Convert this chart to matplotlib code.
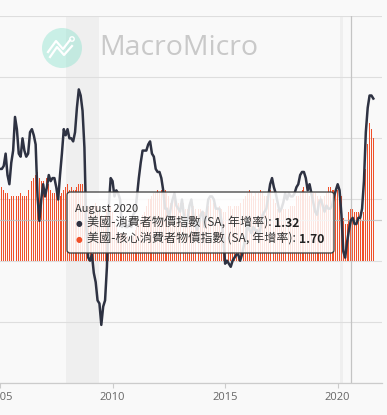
import matplotlib
matplotlib.use('Agg')
import matplotlib.pyplot as plt
import numpy as np
from matplotlib.patches import FancyBboxPatch, Circle
from matplotlib.transforms import IdentityTransform

# ---------------- data (monthly, Jan 2005 .. Aug 2021) ----------------
start_year = 2005
cpi_yoy = [
    3.0, 3.0, 3.1, 3.5, 2.8, 2.5, 3.2, 3.6, 4.7, 4.3, 3.5, 3.4,
    4.0, 3.6, 3.4, 3.5, 4.2, 4.3, 4.1, 3.8, 2.1, 1.3, 2.0, 2.5,
    2.1, 2.4, 2.8, 2.6, 2.7, 2.7, 2.4, 2.0, 2.8, 3.5, 4.3, 4.1,
    4.3, 4.0, 4.0, 3.9, 4.2, 5.0, 5.6, 5.4, 4.9, 3.7, 1.1, 0.1,
    0.0, 0.2, -0.4, -0.7, -1.3, -1.4, -2.1, -1.5, -1.3, -0.2, 1.8, 2.7,
    2.6, 2.1, 2.3, 2.2, 2.0, 1.1, 1.2, 1.1, 1.1, 1.2, 1.1, 1.5,
    1.6, 2.1, 2.7, 3.2, 3.6, 3.6, 3.6, 3.8, 3.9, 3.5, 3.4, 3.0,
    2.9, 2.9, 2.7, 2.3, 1.7, 1.7, 1.4, 1.7, 2.0, 2.2, 1.8, 1.7,
    1.6, 2.0, 1.5, 1.1, 1.4, 1.8, 2.0, 1.5, 1.2, 1.0, 1.2, 1.5,
    1.6, 1.1, 1.5, 2.0, 2.1, 2.1, 2.0, 1.7, 1.7, 1.7, 1.3, 0.8,
    -0.1, 0.0, -0.1, -0.2, 0.0, 0.1, 0.2, 0.2, 0.0, 0.2, 0.5, 0.7,
    1.4, 1.0, 0.9, 1.1, 1.0, 1.0, 0.8, 1.1, 1.5, 1.6, 1.7, 2.1,
    2.5, 2.7, 2.4, 2.2, 1.9, 1.6, 1.7, 1.9, 2.2, 2.0, 2.2, 2.1,
    2.1, 2.2, 2.4, 2.5, 2.8, 2.9, 2.9, 2.7, 2.3, 2.5, 2.2, 1.9,
    1.6, 1.5, 1.9, 2.0, 1.8, 1.6, 1.8, 1.7, 1.7, 1.8, 2.1, 2.3,
    2.5, 2.3, 1.5, 0.3, 0.1, 0.6, 1.0, 1.32, 1.4, 1.2, 1.2, 1.4,
    1.4, 1.7, 2.6, 4.2, 5.0, 5.4, 5.4, 5.3,
]
core_yoy = [
    2.3, 2.4, 2.3, 2.2, 2.2, 2.0, 2.1, 2.1, 2.0, 2.1, 2.1, 2.2,
    2.1, 2.1, 2.1, 2.3, 2.4, 2.6, 2.7, 2.8, 2.9, 2.7, 2.6, 2.6,
    2.7, 2.7, 2.5, 2.3, 2.2, 2.2, 2.2, 2.1, 2.1, 2.2, 2.3, 2.4,
    2.5, 2.3, 2.4, 2.3, 2.3, 2.4, 2.5, 2.5, 2.5, 2.2, 2.0, 1.8,
    1.7, 1.8, 1.8, 1.9, 1.8, 1.7, 1.5, 1.4, 1.5, 1.7, 1.7, 1.8,
    1.6, 1.3, 1.1, 0.9, 0.9, 0.9, 0.9, 0.9, 0.8, 0.6, 0.8, 0.8,
    1.0, 1.1, 1.2, 1.3, 1.5, 1.6, 1.8, 2.0, 2.0, 2.1, 2.2, 2.2,
    2.3, 2.2, 2.3, 2.3, 2.3, 2.2, 2.1, 1.9, 2.0, 2.0, 1.9, 1.9,
    1.9, 2.0, 1.9, 1.7, 1.7, 1.6, 1.7, 1.8, 1.7, 1.7, 1.7, 1.7,
    1.6, 1.6, 1.7, 1.8, 2.0, 1.9, 1.9, 1.7, 1.7, 1.8, 1.7, 1.6,
    1.6, 1.7, 1.8, 1.8, 1.7, 1.8, 1.8, 1.8, 1.9, 1.9, 2.0, 2.1,
    2.2, 2.3, 2.2, 2.1, 2.2, 2.2, 2.2, 2.3, 2.2, 2.1, 2.1, 2.2,
    2.3, 2.2, 2.0, 1.9, 1.7, 1.7, 1.7, 1.7, 1.7, 1.8, 1.7, 1.8,
    1.8, 1.8, 2.1, 2.1, 2.2, 2.3, 2.4, 2.2, 2.2, 2.1, 2.2, 2.2,
    2.2, 2.1, 2.0, 2.1, 2.0, 2.1, 2.2, 2.4, 2.4, 2.3, 2.3, 2.3,
    2.3, 2.4, 2.1, 1.4, 1.2, 1.2, 1.6, 1.70, 1.7, 1.6, 1.6, 1.6,
    1.4, 1.3, 1.6, 3.0, 3.8, 4.5, 4.3, 4.0,
]
recessions = [(2007 + 11/12, 2009 + 5/12), (2020 + 1/12, 2020 + 3/12)]
xticks = [2005, 2010, 2015, 2020]
tooltip_title = 'August 2020'
tooltip_index = 15 * 12 + 7
label_cpi = '美國-消費者物價指數 (SA, 年增率)'
label_core = '美國-核心消費者物價指數 (SA, 年增率)'

# ---------------- figure ----------------
W, H = 387, 415
BG = '#f9f9f9'
RED = '#f0502a'
NAVY = '#2e3242'
plt.rcParams['font.family'] = ['Noto Sans CJK TC', 'DejaVu Sans']
fig = plt.figure(figsize=(W / 100, H / 100), dpi=100, facecolor=BG)
ax = fig.add_axes([0, 32 / H, 382 / W, 367 / H])
ax.set_facecolor(BG)

t = start_year + np.arange(len(cpi_yoy)) / 12.0
x0 = 2005.17
ax.set_xlim(x0, x0 + 382 / 22.74)
ax.set_ylim(-4, 8)

for a, b in recessions:
    ax.axvspan(a, b, color='#efefef', lw=0, zorder=0.5)

ax.set_yticks(np.arange(-4, 9, 2))
ax.yaxis.grid(True, color='#dedede', lw=0.8, zorder=0)
ax.set_axisbelow(True)
ax.tick_params(axis='y', left=False, labelleft=False)

ax.bar(t, core_yoy, width=0.5 / 12, color=RED, lw=0, zorder=2, align='center')
ax.plot(t, cpi_yoy, color=NAVY, lw=1.8, zorder=3, solid_joinstyle='round')

# crosshair
ax.axvline(t[tooltip_index], color='#c4c4c4', lw=0.9, zorder=2.5)
ax.axhline(cpi_yoy[tooltip_index], color='#c0c0c0', lw=0.9, alpha=0.8, zorder=2.5)

for s in ['top', 'right', 'left']:
    ax.spines[s].set_visible(False)
ax.spines['bottom'].set_color('#cccccc')
ax.spines['bottom'].set_linewidth(0.9)
ax.set_xticks(xticks)
ax.set_xticklabels([str(v) for v in xticks], family='Open Sans', fontsize=8, color='#666666')
ax.tick_params(axis='x', length=3.5, color='#cccccc', pad=3)

# ---------------- watermark ----------------
px = IdentityTransform()
fig.add_artist(Circle((62, H - 48), 20, transform=px, color='#8fe3cf', alpha=0.45, lw=0, zorder=1))
zig1 = [(48, 52), (56, 41), (63, 49), (70, 40)]
zig2 = [(50, 57), (57, 47), (64, 55), (72, 46)]
for z in (zig1, zig2):
    xs = [p[0] for p in z]
    ys = [H - p[1] for p in z]
    fig.add_artist(plt.Line2D(xs, ys, transform=px, color='white', lw=1.6, zorder=1.1))
fig.add_artist(Circle((72, H - 39), 2.2, transform=px, fc='none', ec='white', lw=1.0, zorder=1.1))
fig.text(99 / W, 1 - 48 / H, 'MacroMicro', family='Open Sans', fontsize=20.5,
         color='#c9c9c9', va='center', ha='left', zorder=1)

# ---------------- tooltip ----------------
box = FancyBboxPatch((67, H - 253), 334 - 67, 253 - 192, boxstyle='round,pad=0,rounding_size=3',
                     transform=px, fc=(1, 1, 1, 0.86), ec='#3a3a3a', lw=0.9, zorder=5)
fig.add_artist(box)
fig.text(75 / W, 1 - 209 / H, tooltip_title, fontsize=8, color='#333333', va='center', ha='left', zorder=6)

renderer = fig.canvas.get_renderer()
rows = [(223, NAVY, label_cpi, cpi_yoy[tooltip_index]),
        (239, RED, label_core, core_yoy[tooltip_index])]
for y, c, lab, val in rows:
    fig.text(79 / W, 1 - y / H, '●', family='DejaVu Sans', fontsize=5.5, color=c,
             va='center', ha='center', zorder=6)
    t1 = fig.text(87 / W, 1 - y / H, lab + ': ', fontsize=8.7, color='#333333',
                  va='center', ha='left', zorder=6)
    bb = t1.get_window_extent(renderer)
    fig.text(bb.x1 / W, 1 - y / H, f'{val:.2f}', fontsize=8.7, weight='bold', color='#222222',
             va='center', ha='left', zorder=6)

fig.savefig('out.png', dpi=100, facecolor=BG)
